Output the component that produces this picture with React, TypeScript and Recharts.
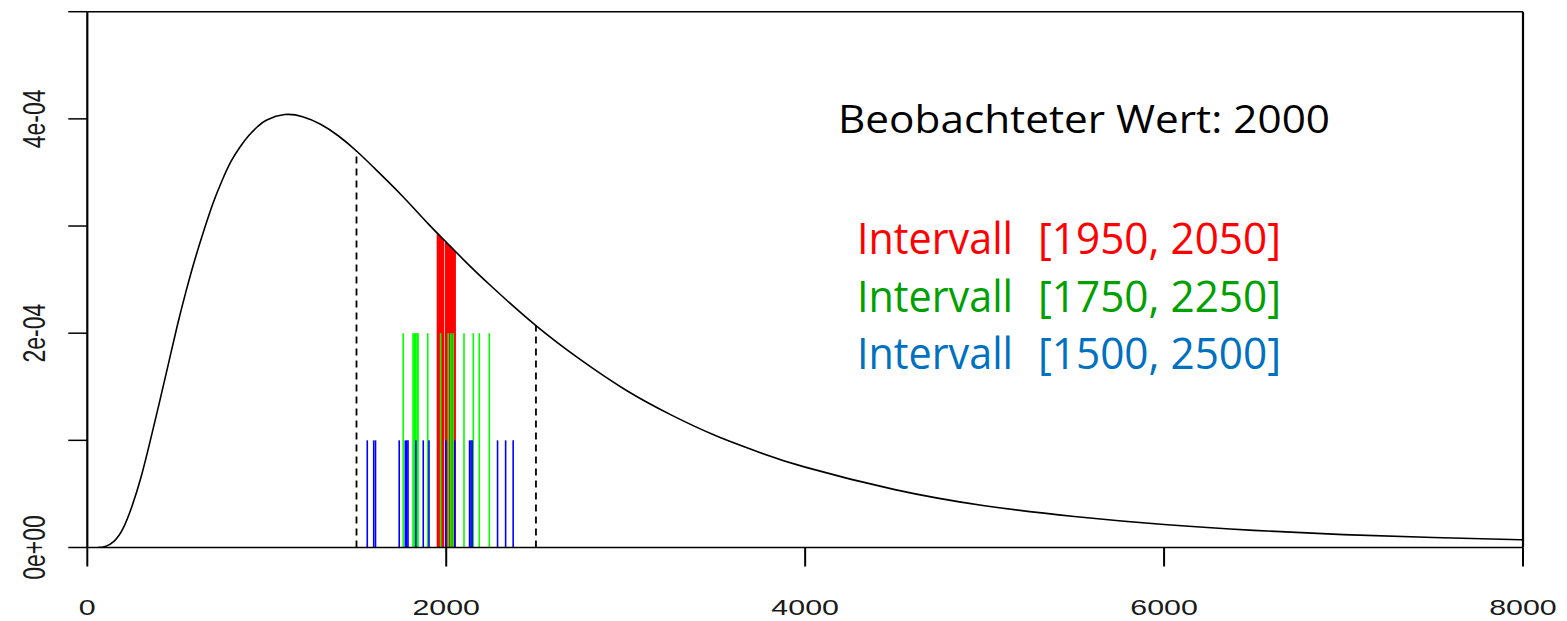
import React from 'react';
import { ComposedChart, Line, XAxis, YAxis, ReferenceLine } from 'recharts';

// density curve (y in units of 1e-04)
const curveX = [60, 100, 150, 200, 250, 300, 350, 400, 450, 500, 550, 600, 650, 700, 750, 800, 850, 900, 950, 1000, 1100, 1200, 1300, 1400, 1500, 1600, 1750, 1900, 2000, 2100, 2250, 2500, 2750, 3000, 3250, 3500, 3750, 4000, 4500, 5000, 5500, 6000, 6500, 7000, 7500, 8000];
const curveY = [0, 0.01, 0.06, 0.18, 0.39, 0.66, 0.99, 1.34, 1.7, 2.06, 2.39, 2.69, 2.96, 3.21, 3.42, 3.6, 3.735, 3.845, 3.93, 3.99, 4.04, 4.02, 3.95, 3.84, 3.7, 3.54, 3.29, 3.02, 2.85, 2.68, 2.44, 2.07, 1.75, 1.47, 1.24, 1.045, 0.885, 0.75, 0.54, 0.39, 0.29, 0.215, 0.16, 0.12, 0.093, 0.072];

// observations inside [1950, 2050] (drawn up to the curve)
const redX = [1953, 1958, 1963, 1968, 1973, 1978, 1982, 1998, 2003, 2008, 2013, 2018, 2023, 2028, 2033, 2038, 2043, 2048];
const redTop = [2.93, 2.92, 2.91, 2.9, 2.89, 2.88, 2.88, 2.85, 2.84, 2.83, 2.82, 2.82, 2.81, 2.8, 2.79, 2.78, 2.77, 2.77];

// observations inside [1750, 2250]
const greenX = [1760, 1815, 1822, 1830, 1838, 1843, 1897, 1969, 2011, 2026, 2039, 2099, 2151, 2184, 2240];
const greenTop = 2;

// observations inside [1500, 2500]
const blueX = [1560, 1596, 1606, 1738, 1772, 1780, 1787, 1831, 1872, 1904, 1998, 2048, 2130, 2138, 2145, 2286, 2331, 2373];
const blueTop = 1;

// dashed limits of the widest interval
const dashX = [1500, 2500];
const dashTop = [3.7, 2.07];

const xTicks = [0, 2000, 4000, 6000, 8000];
const yTicks = [0, 1, 2, 3, 4, 5];
const yTickLabels = ['0e+00', '', '2e-04', '', '4e-04', ''];

const intervalLabels = ['[1950, 2050]', '[1750, 2250]', '[1500, 2500]'];
const intervalColors = ['#ff0000', '#00a000', '#0070c0'];

const curve = curveX.map((x, i) => ({ x, y: curveY[i] }));

const STRETCH = 1.35;

const XTick = (props: any) => {
  const { x, payload } = props;
  return (
    <text
      x={x}
      y={615.5}
      textAnchor="middle"
      fontSize={22.5}
      fontFamily="'Liberation Sans', Arial, sans-serif"
      fill="#1a1a1a"
      transform={`translate(${x},0) scale(${STRETCH},1) translate(${-x},0)`}
    >
      {payload.value}
    </text>
  );
};

const YTick = (props: any) => {
  const { y, payload } = props;
  const label = yTickLabels[yTicks.indexOf(payload.value)];
  if (!label) return null;
  return (
    <text
      textAnchor="middle"
      fontSize={23}
      fontFamily="'Liberation Sans', Arial, sans-serif"
      fill="#1a1a1a"
      transform={`translate(45,${y}) scale(${STRETCH},1) rotate(-90)`}
    >
      {label}
    </text>
  );
};

export default function App() {
  return (
    <div style={{ position: 'absolute', left: 0, top: 0, width: 1567, height: 621, background: '#fff' }}>
      <ComposedChart
        width={1567}
        height={621}
        data={curve}
        margin={{ top: 11.7, right: 44, left: 0, bottom: 0 }}
      >
        <XAxis
          dataKey="x"
          type="number"
          domain={[0, 8000]}
          ticks={xTicks}
          allowDataOverflow
          height={73.5}
          tickSize={19}
          axisLine={{ stroke: '#000', strokeWidth: 1.5 }}
          tickLine={{ stroke: '#000', strokeWidth: 2 }}
          tick={<XTick />}
        />
        <YAxis
          type="number"
          domain={[0, 5]}
          ticks={yTicks}
          allowDataOverflow
          width={87.3}
          tickSize={19}
          axisLine={{ stroke: '#000', strokeWidth: 2.2 }}
          tickLine={{ stroke: '#000', strokeWidth: 1.5 }}
          tick={<YTick />}
        />
        <ReferenceLine y={5} stroke="#000" strokeWidth={1.5} />
        <ReferenceLine x={8000} stroke="#000" strokeWidth={2.2} />

        {redX.map((x, i) => (
          <ReferenceLine key={'r' + i} segment={[{ x, y: 0 }, { x, y: redTop[i] }]} stroke="#ff0000" strokeWidth={2.2} />
        ))}
        {greenX.map((x, i) => (
          <ReferenceLine key={'g' + i} segment={[{ x, y: 0 }, { x, y: greenTop }]} stroke="#00ff00" strokeWidth={1.6} />
        ))}
        {blueX.map((x, i) => (
          <ReferenceLine key={'b' + i} segment={[{ x, y: 0 }, { x, y: blueTop }]} stroke="#0000ff" strokeWidth={1.6} />
        ))}
        {dashX.map((x, i) => (
          <ReferenceLine key={'d' + i} segment={[{ x, y: 0 }, { x, y: dashTop[i] }]} stroke="#000" strokeWidth={1.8} strokeDasharray="7 5" />
        ))}

        <Line
          type="natural"
          dataKey="y"
          stroke="#000"
          strokeWidth={1.6}
          dot={false}
          activeDot={false}
          isAnimationActive={false}
        />
      </ComposedChart>

      <svg
        width={1567}
        height={621}
        style={{ position: 'absolute', left: 0, top: 0, pointerEvents: 'none' }}
      >
        <text
          x={838}
          y={133}
          fontSize={39}
          fontFamily="'Open Sans', sans-serif"
          fill="#000"
          textLength={492}
          lengthAdjust="spacingAndGlyphs"
        >
          Beobachteter Wert: 2000
        </text>
        {intervalLabels.map((lab, i) => (
          <g key={lab}>
            <text
              x={857}
              y={254 + i * 57.5}
              fontSize={43}
              fontFamily="'Open Sans', sans-serif"
              fill={intervalColors[i]}
              textLength={156}
              lengthAdjust="spacingAndGlyphs"
            >
              Intervall
            </text>
            <text
              x={1038}
              y={254 + i * 57.5}
              fontSize={43}
              fontFamily="'Open Sans', sans-serif"
              fill={intervalColors[i]}
              textLength={243}
              lengthAdjust="spacingAndGlyphs"
            >
              {lab}
            </text>
          </g>
        ))}
      </svg>
    </div>
  );
}
